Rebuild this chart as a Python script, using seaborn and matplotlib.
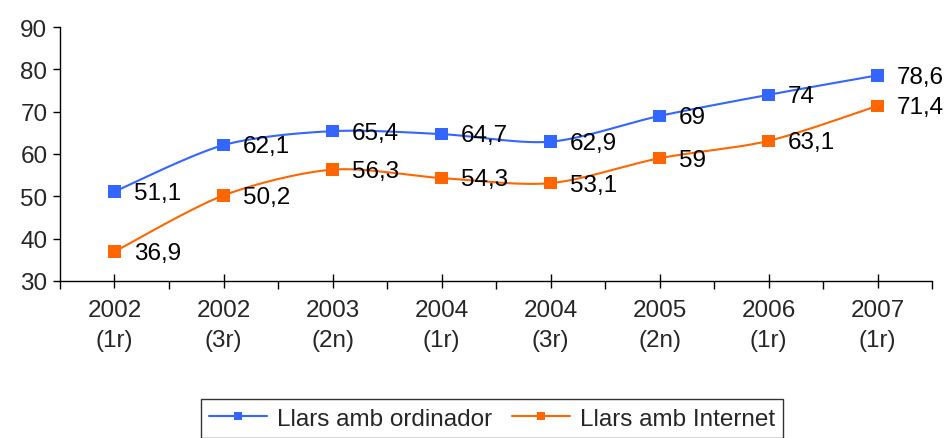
import numpy as np
import pandas as pd
import matplotlib
matplotlib.use("Agg")
import matplotlib.pyplot as plt
import seaborn as sns
from matplotlib.ticker import MultipleLocator, FixedLocator

periods = ["2002\n(1r)", "2002\n(3r)", "2003\n(2n)", "2004\n(1r)",
           "2004\n(3r)", "2005\n(2n)", "2006\n(1r)", "2007\n(1r)"]
ordinador = [51.1, 62.1, 65.4, 64.7, 62.9, 69, 74, 78.6]
internet = [36.9, 50.2, 56.3, 54.3, 53.1, 59, 63.1, 71.4]
series_names = ["Llars amb ordinador", "Llars amb Internet"]
colors = ["#3366FF", "#FF6600"]

sns.set_style("white")
plt.rcParams['font.family'] = ['Liberation Sans', 'DejaVu Sans']
FS = 17.5

df = pd.DataFrame({"x": np.arange(len(periods)), series_names[0]: ordinador,
                   series_names[1]: internet})
long = df.melt(id_vars="x", var_name="serie", value_name="valor")


def smooth(x, y, n=30, k=7):
    # bezier through the points, like excel's smoothed line
    x = np.asarray(x, float)
    y = np.asarray(y, float)
    px = np.concatenate([[x[0]], x, [x[-1]]])
    py = np.concatenate([[y[0]], y, [y[-1]]])
    xs, ys = [], []
    for i in range(1, len(px) - 2):
        p0, p1, p2, p3 = (np.array([px[j], py[j]]) for j in range(i - 1, i + 3))
        c1 = p1 + (p2 - p0) / k
        c2 = p2 - (p3 - p1) / k
        t = np.linspace(0, 1, n)[:, None]
        b = (1 - t) ** 3 * p1 + 3 * (1 - t) ** 2 * t * c1 + 3 * (1 - t) * t ** 2 * c2 + t ** 3 * p2
        xs.append(b[:, 0])
        ys.append(b[:, 1])
    return np.concatenate(xs), np.concatenate(ys)


fig = plt.figure(figsize=(9.46, 4.39), dpi=100)
ax = fig.add_axes([0.0634, 0.358, 0.922, 0.578])

for name, col in zip(series_names, colors):
    sx, sy = smooth(df["x"], df[name])
    ax.plot(sx, sy, color=col, lw=1.5, zorder=2)

sns.scatterplot(data=long, x="x", y="valor", hue="serie", palette=colors,
                marker="s", s=80, edgecolor="none", ax=ax, legend=False, zorder=3)

for name in series_names:
    for xi, v in zip(df["x"], df[name]):
        txt = ("%g" % v).replace(".", ",")
        ax.annotate(txt, (xi, v), xytext=(14, -1), textcoords="offset points",
                    ha="left", va="center", fontsize=FS, color="black", zorder=4)

ax.set_xlim(-0.5, len(periods) - 0.5)
ax.set_ylim(30, 90)
ax.yaxis.set_major_locator(MultipleLocator(10))
ax.set_xticks(df["x"])
ax.set_xticklabels(periods, fontsize=FS, linespacing=1.45)
ax.xaxis.set_minor_locator(FixedLocator(np.arange(-0.5, len(periods), 1)))
ax.tick_params(axis="y", labelsize=FS, direction="out", length=5, width=1, color="black", pad=4)
ax.tick_params(axis="x", which="major", direction="inout", length=10, width=1, color="black", pad=8)
ax.tick_params(axis="x", which="minor", direction="out", length=6, width=1, color="black")
ax.tick_params(left=True, bottom=True)
ax.xaxis.set_tick_params(which="minor", bottom=True)
ax.set_xlabel("")
ax.set_ylabel("")
for side in ["top", "right"]:
    ax.spines[side].set_visible(False)
for side in ["left", "bottom"]:
    ax.spines[side].set_color("black")
    ax.spines[side].set_linewidth(1)

handles = [plt.Line2D([], [], color=c, lw=1.5, marker="s", markersize=6, markeredgewidth=0)
           for c in colors]
leg = fig.legend(handles, series_names, loc="upper center", bbox_to_anchor=(0.52, 1 - 400 / 439),
                 ncol=2, fontsize=FS, frameon=True, fancybox=False, edgecolor="black",
                 handlelength=2.4, columnspacing=0.8, handletextpad=0.4, borderpad=0.35,
                 borderaxespad=0)
leg.get_frame().set_linewidth(1)

fig.savefig("out.png", dpi=100)
